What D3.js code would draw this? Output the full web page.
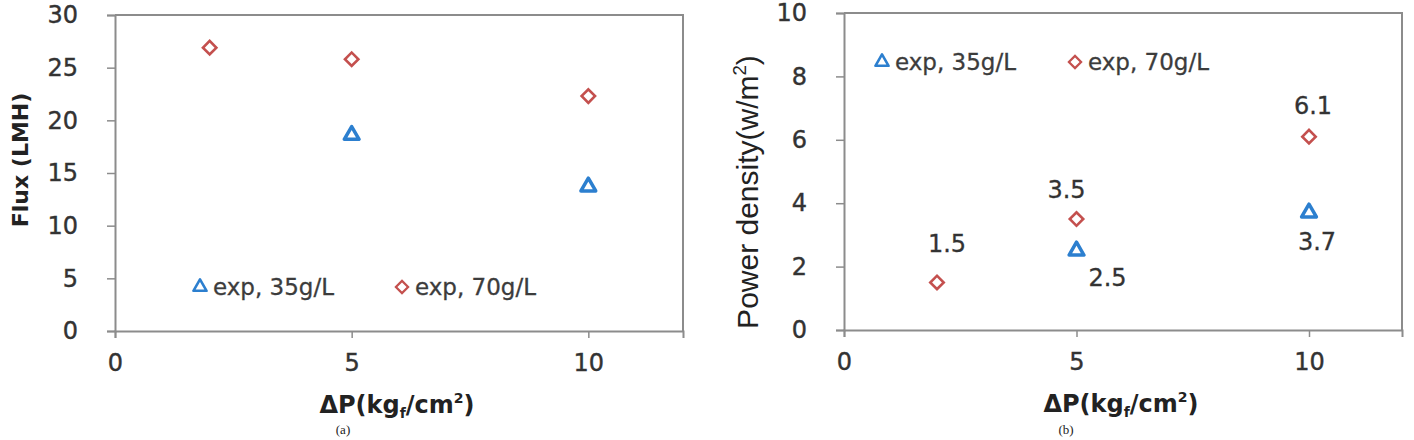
<!DOCTYPE html>
<html>
<head>
<meta charset="utf-8">
<script src="https://cdn.jsdelivr.net/npm/d3@7"></script>
<style>
  body { margin: 0; background: #fff; }
  svg { display: block; }
  .tick text { font-family: "DejaVu Sans", sans-serif; font-size: 24px; fill: #333; stroke: #333; stroke-width: 0.4px; }
  .legend text { font-family: "DejaVu Sans", sans-serif; font-size: 23px; fill: #3c3c3c; stroke: #3c3c3c; stroke-width: 0.3px; }
  .vlabel { font-family: "DejaVu Sans", sans-serif; font-size: 24px; fill: #333; stroke: #333; stroke-width: 0.3px; }
</style>
</head>
<body>
<svg id="chart" width="1414" height="440"></svg>
<script>
// Data
var pressure70 = [2, 5, 10];
var pressure35 = [5, 10];
var flux70 = [26.9, 25.8, 22.3];
var flux35 = [18.6, 13.7];
var power70 = [1.5, 3.5, 6.1];
var power35 = [2.5, 3.7];
var xTicks = [0, 5, 10];
var fluxTicks = [0, 5, 10, 15, 20, 25, 30];
var powerTicks = [0, 2, 4, 6, 8, 10];
var seriesNames = ["exp, 35g/L", "exp, 70g/L"];

var blue = "#2c7fcf";
var red = "#c4504e";
var axisGray = "#8c8c8c";

var svg = d3.select("#chart");

function marker(g, kind, small) {
    if (kind === "tri") {
        g.append("path")
            .attr("d", d3.symbol().type(d3.symbolTriangle).size(small ? 75 : 95)())
            .attr("fill", "#fff")
            .attr("stroke", blue)
            .attr("stroke-width", small ? 2.6 : 3.5)
            .attr("stroke-linejoin", "round");
    } else {
        g.append("path")
            .attr("d", d3.symbol().type(d3.symbolSquare).size(small ? 75 : 90)())
            .attr("transform", "rotate(45)")
            .attr("fill", "#fff")
            .attr("stroke", red)
            .attr("stroke-width", small ? 2.2 : 2.6);
    }
}

function drawPanel(cfg) {
    var x = d3.scaleLinear().domain([0, 12]).range([cfg.left, cfg.right]);
    var y = d3.scaleLinear().domain([0, cfg.yMax]).range([cfg.bottom, cfg.top]);
    var g = svg.append("g");

    // frame (top and right)
    g.append("path")
        .attr("d", "M" + cfg.left + "," + cfg.top + "H" + cfg.right + "V" + cfg.bottom)
        .attr("fill", "none")
        .attr("stroke", axisGray)
        .attr("stroke-width", 2);

    var yAxis = g.append("g")
        .attr("transform", "translate(" + cfg.left + ",0)")
        .call(d3.axisLeft(y).tickValues(cfg.yTicks).tickSize(8).tickPadding(29));
    var xAxis = g.append("g")
        .attr("transform", "translate(0," + cfg.bottom + ")")
        .call(d3.axisBottom(x).tickValues(xTicks).tickSize(7).tickPadding(16));
    [xAxis, yAxis].forEach(function (a) {
        a.select(".domain").attr("stroke", axisGray).attr("stroke-width", 2);
        a.selectAll(".tick line").attr("stroke", axisGray).attr("stroke-width", 1.5);
        a.attr("font-family", null).attr("font-size", null);
    });
    yAxis.selectAll(".tick text").attr("text-anchor", "end");

    // axis titles
    var xt = g.append("text")
        .attr("x", (cfg.left + cfg.right) / 2 - 2)
        .attr("y", cfg.bottom + 82)
        .attr("text-anchor", "middle")
        .attr("font-family", "DejaVu Sans, sans-serif")
        .attr("font-weight", "bold")
        .attr("font-size", 24)
        .attr("fill", "#222");
    xt.append("tspan").text("ΔP(kg");
    xt.append("tspan").attr("font-size", 14).attr("dy", 5).text("f");
    xt.append("tspan").attr("dy", -5).text("/cm");
    xt.append("tspan").attr("font-size", 14).attr("dy", -10).text("2");
    xt.append("tspan").attr("dy", 10).text(")");

    var yt = g.append("text")
        .attr("transform", "translate(" + cfg.yTitleX + "," + cfg.yTitleY + ") rotate(-90)")
        .attr("text-anchor", "middle")
        .attr("font-family", cfg.yTitleFont)
        .attr("font-weight", cfg.yTitleWeight)
        .attr("font-size", cfg.yTitleSize)
        .attr("fill", "#222");
    yt.append("tspan").text(cfg.yTitle[0]);
    if (cfg.yTitle.length > 1) {
        yt.append("tspan").attr("font-size", cfg.yTitleSize * 0.62).attr("dy", -12).text(cfg.yTitle[1]);
        yt.append("tspan").attr("dy", 12).text(cfg.yTitle[2]);
    }

    // points
    cfg.series.forEach(function (s) {
        s.ys.forEach(function (v, i) {
            var m = g.append("g")
                .attr("transform", "translate(" + x(s.xs[i]) + "," + y(v) + ")");
            marker(m, s.kind, false);
            if (s.labelOffsets) {
                g.append("text")
                    .attr("class", "vlabel")
                    .attr("x", x(s.xs[i]) + s.labelOffsets[i][0])
                    .attr("y", y(v) + s.labelOffsets[i][1])
                    .attr("text-anchor", "middle")
                    .text(d3.format(".1f")(v));
            }
        });
    });

    // legend
    var lg = g.append("g").attr("class", "legend");
    cfg.legend.forEach(function (l, i) {
        var item = lg.append("g").attr("transform", "translate(" + l[0] + "," + l[1] + ")");
        marker(item, i === 0 ? "tri" : "dia", true);
        item.append("text").attr("x", 13).attr("y", 8).text(seriesNames[i]);
    });

    // caption at the bottom edge
    svg.append("text")
        .attr("x", cfg.captionX)
        .attr("y", 434)
        .attr("text-anchor", "middle")
        .attr("font-family", "Liberation Serif, serif")
        .attr("font-size", 13)
        .attr("fill", "#222")
        .text(cfg.caption);
}

drawPanel({
    left: 115, right: 683, top: 15, bottom: 331,
    yMax: 30, yTicks: fluxTicks,
    yTitle: ["Flux (LMH)"], yTitleX: 28, yTitleY: 160,
    yTitleFont: "DejaVu Sans, sans-serif", yTitleWeight: "bold", yTitleSize: 22,
    series: [
        { kind: "tri", xs: pressure35, ys: flux35 },
        { kind: "dia", xs: pressure70, ys: flux70 }
    ],
    legend: [[200, 287], [402, 287]],
    caption: "(a)", captionX: 343
});

drawPanel({
    left: 844, right: 1402, top: 13, bottom: 330,
    yMax: 10, yTicks: powerTicks,
    yTitle: ["Power density(w/m", "2", ")"], yTitleX: 758, yTitleY: 192,
    yTitleFont: "Liberation Sans, sans-serif", yTitleWeight: "normal", yTitleSize: 30,
    series: [
        { kind: "tri", xs: pressure35, ys: power35, labelOffsets: [[31, 35], [8, 37]] },
        { kind: "dia", xs: pressure70, ys: power70, labelOffsets: [[10, -30], [-10, -21], [4, -23]] }
    ],
    legend: [[882, 62], [1075, 62]],
    caption: "(b)", captionX: 1066
});
</script>
</body>
</html>
